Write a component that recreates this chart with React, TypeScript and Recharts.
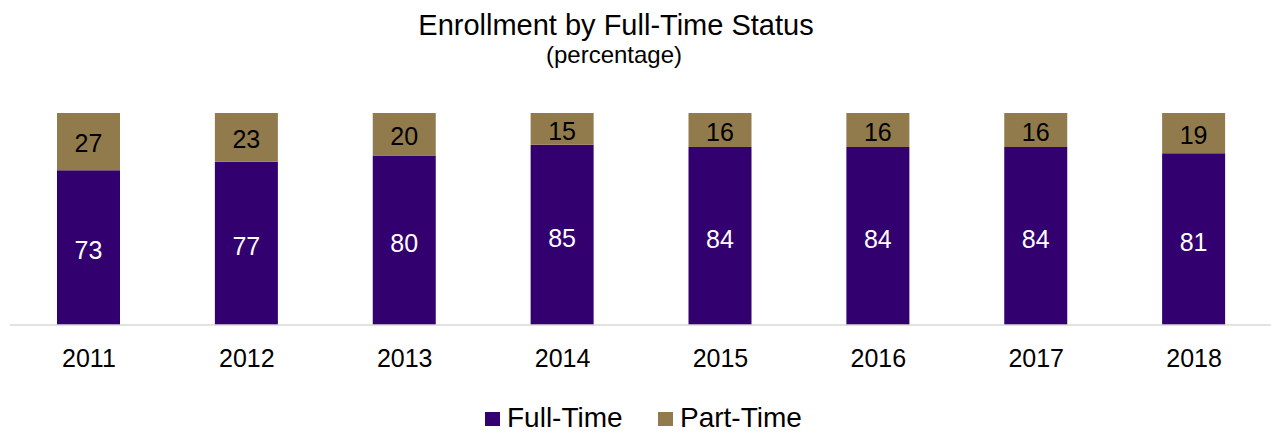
import React from "react";
import { BarChart, Bar, XAxis, YAxis, LabelList } from "recharts";

const years = ["2011", "2012", "2013", "2014", "2015", "2016", "2017", "2018"];
const fullTime = [73, 77, 80, 85, 84, 84, 84, 81];
const partTime = [27, 23, 20, 15, 16, 16, 16, 19];
const seriesNames = ["Full-Time", "Part-Time"];
const colors = ["#33006F", "#917B4C"];
const titleText = "Enrollment by Full-Time Status";
const subtitleText = "(percentage)";

const data = years.map((y, i) => ({ year: y, full: fullTime[i], part: partTime[i] }));

const FONT = "Arial, 'Liberation Sans', sans-serif";

export default function App() {
  return (
    <div style={{ position: "absolute", left: 0, top: 0, width: 1271, height: 432, fontFamily: FONT, background: "#fff" }}>
      <BarChart
        width={1271}
        height={432}
        data={data}
        margin={{ top: 113, right: -2, left: 10, bottom: 77 }}
      >
        <XAxis
          dataKey="year"
          height={30}
          axisLine={{ stroke: "#D9D9D9", strokeWidth: 1.5 }}
          tickLine={false}
          tickSize={0}
          tickMargin={24}
          tick={{ fill: "#000", fontSize: 25, fontFamily: FONT }}
          interval={0}
        />
        <YAxis hide domain={[0, 100]} type="number" />
        <Bar dataKey="full" stackId="a" fill={colors[0]} barSize={63} isAnimationActive={false}>
          <LabelList dataKey="full" position="center" fill="#fff" fontSize={25} fontFamily={FONT} dy={3} />
        </Bar>
        <Bar dataKey="part" stackId="a" fill={colors[1]} barSize={63} isAnimationActive={false}>
          <LabelList dataKey="part" position="center" fill="#000" fontSize={25} fontFamily={FONT} dy={2} />
        </Bar>
      </BarChart>
      <svg width={1271} height={80} style={{ position: "absolute", left: 0, top: 0, pointerEvents: "none" }}>
        <text x={616} y={35} textAnchor="middle" fontSize={29} fontFamily={FONT} fill="#000">{titleText}</text>
        <text x={614} y={63} textAnchor="middle" fontSize={24} fontFamily={FONT} fill="#000">{subtitleText}</text>
      </svg>
      <svg width={1271} height={40} style={{ position: "absolute", left: 0, top: 392, pointerEvents: "none" }}>
        <rect x={485} y={20} width={15} height={14} fill={colors[0]} />
        <text x={507} y={35} fontSize={28} fontFamily={FONT} fill="#000">{seriesNames[0]}</text>
        <rect x={658} y={20} width={15} height={14} fill={colors[1]} />
        <text x={680} y={35} fontSize={28} fontFamily={FONT} fill="#000">{seriesNames[1]}</text>
      </svg>
    </div>
  );
}
